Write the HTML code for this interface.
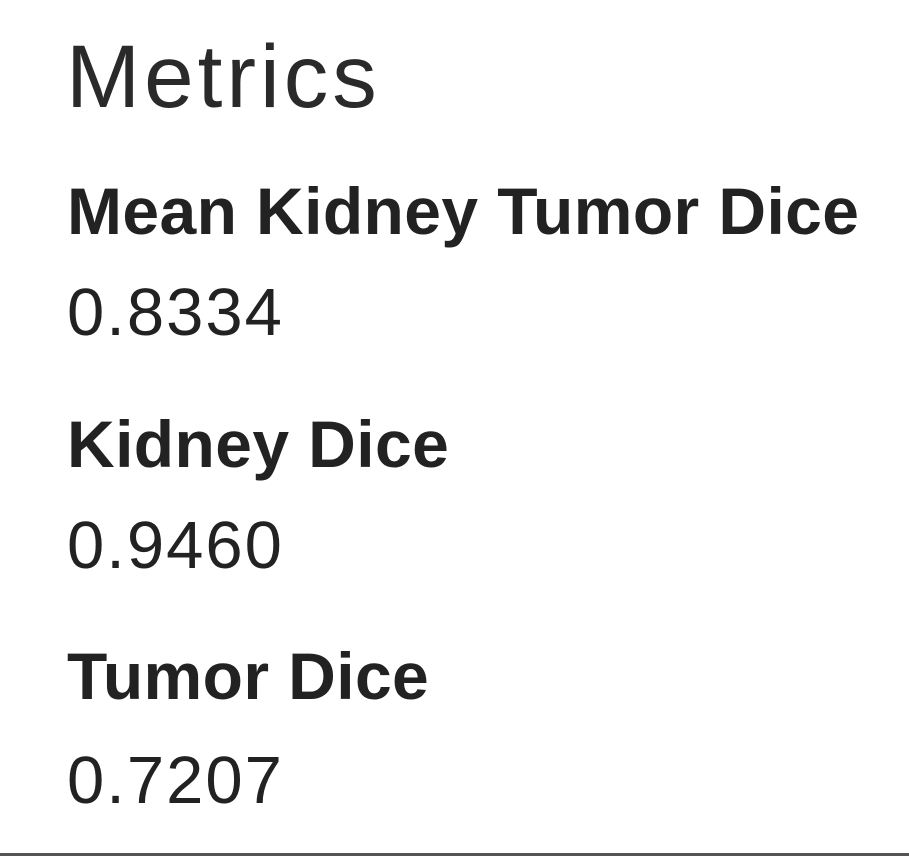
<!DOCTYPE html>
<html>
<head>
<meta charset="utf-8">
<style>
  html, body { margin: 0; padding: 0; background: #fff; }
  body { width: 909px; height: 858px; position: relative; overflow: hidden;
         font-family: "Liberation Sans", sans-serif; color: #222; }
  .t { position: absolute; left: 67px; white-space: nowrap; line-height: 1; }
  .title { font-size: 89px; top: 32px; left: 66px; letter-spacing: 4px; color: #2a2a2a; font-weight: 300; }
  .label { font-size: 66px; font-weight: bold; letter-spacing: 0.4px; }
  .value { font-size: 67px; letter-spacing: 2px; }
  .bottom-line { position: absolute; left: 0; right: 0; top: 853px; height: 3px; background: #555; }
</style>
</head>
<body>
  <div class="t title">Metrics</div>
  <div class="t label" style="top:178px">Mean Kidney Tumor Dice</div>
  <div class="t value" style="top:279px">0.8334</div>
  <div class="t label" style="top:411px">Kidney Dice</div>
  <div class="t value" style="top:512px">0.9460</div>
  <div class="t label" style="top:643px">Tumor Dice</div>
  <div class="t value" style="top:747px">0.7207</div>
  <div class="bottom-line"></div>
</body>
</html>
